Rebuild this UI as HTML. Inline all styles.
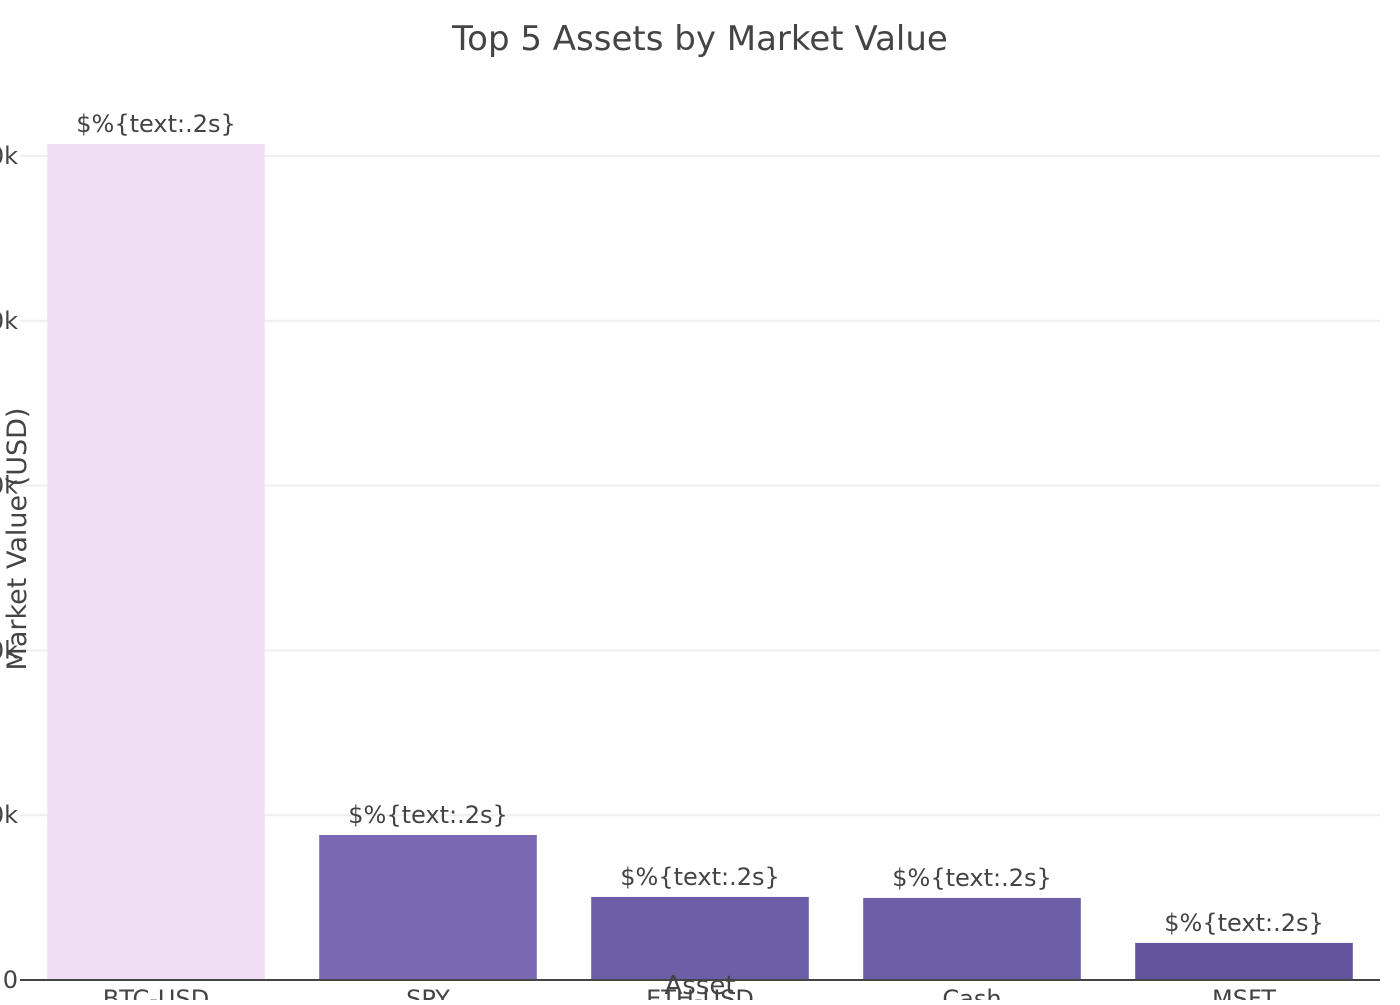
<!DOCTYPE html>
<html><head><meta charset="utf-8"><style>
html,body{margin:0;padding:0;background:#fff;overflow:hidden}
svg text{font-family:"DejaVu Sans","Liberation Sans",sans-serif;fill:#444}
</style></head><body>
<svg id="chart" width="1400" height="1000">
<text x="700" y="50" text-anchor="middle" font-size="34">Top 5 Assets by Market Value</text>
<g id="grid"></g><g id="bars"></g><g id="labels"></g>
<line x1="20" x2="1380" y1="980" y2="980" stroke="#444" stroke-width="2"/>
<text x="700" y="994" text-anchor="middle" font-size="26">Asset</text>
<text transform="translate(26,539) rotate(-90)" text-anchor="middle" font-size="27">Market Value (USD)</text>
</svg>
<script>
const categories=["BTC-USD","SPY","ETH-USD","Cash","MSFT"];
const values=[50730,8800,5040,4980,2250];
const colors=["#f0dff4","#7b68b3","#6d5fa7","#6d5fa7","#62549c"];
const ticks=[0,10000,20000,30000,40000,50000];
const tickLabels=["0","10k","20k","30k","40k","50k"];
const NS="http://www.w3.org/2000/svg";
const x0=20,x1=1380,yb=980,pxPer=164.8/10000;
const y=v=>yb-v*pxPer;
const band=(x1-x0)/categories.length;
function mk(t,a,p){const e=document.createElementNS(NS,t);for(const k in a)e.setAttribute(k,a[k]);p.appendChild(e);return e;}
const g=document.getElementById('grid'),b=document.getElementById('bars'),l=document.getElementById('labels');
ticks.forEach((t,i)=>{
  if(t>0){const ln=mk('line',{x1:x0,x2:x1,y1:y(t),y2:y(t),stroke:'#eeeeee','stroke-width':2},g);
  
  }
  const tx=mk('text',{x:18,y:y(t)+8,'text-anchor':'end','font-size':24},g);
  tx.textContent=tickLabels[i];
  
  
});
categories.forEach((c,i)=>{
  const cx=x0+band*(i+0.5),w=band*0.8;
  const r=mk('rect',{x:cx-w/2,y:y(values[i]),width:w,height:yb-y(values[i]),fill:colors[i]},b);
  
  
  const t=mk('text',{x:cx,y:y(values[i])-12,'text-anchor':'middle','font-size':24},l);
  t.textContent='$%{text:.2s}';
  
  
  const xl=mk('text',{x:cx,y:1007,'text-anchor':'middle','font-size':24},l);
  xl.textContent=c;
  
  
});
</script>
</body></html>
